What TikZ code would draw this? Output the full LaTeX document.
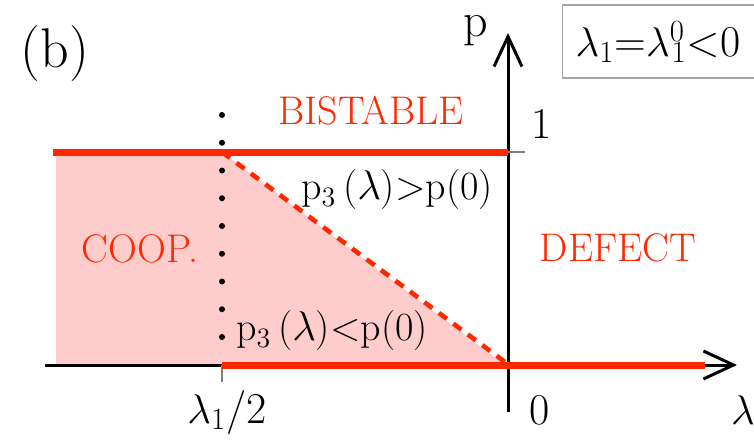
\documentclass[tikz,border=0pt]{standalone}
\usepackage{fontspec}
\usetikzlibrary{arrows.meta}
\definecolor{phasered}{RGB}{255,40,0}
\definecolor{coopfill}{RGB}{255,204,204}
\newcommand{\lam}{$\lambda$}

\begin{document}
\begin{tikzpicture}[x=0.5pt,y=-0.5pt,
  region/.style={text=phasered,font=\fontsize{20}{24}\selectfont,inner sep=0pt},
  cond/.style={font=\fontsize{20}{24}\selectfont,inner sep=0pt},
  ticklabel/.style={font=\fontsize{22}{26}\selectfont,inner sep=0pt},
  axis/.style={line width=1.5pt,-{Straight Barb[length=15pt,width=14pt,line width=1.5pt]}},
  border/.style={phasered,line width=3.5pt},
  tickline/.style={gray,line width=0.6pt}
]
\useasboundingbox (0,0) rectangle (754,439);
% key points
\coordinate (o) at (508,365);
\coordinate (half) at (222,365);
\coordinate (halftop) at (222,152);
\coordinate (topleft) at (53,152);
\coordinate (topaxis) at (508,152);
% cooperative region
\fill[coopfill] (56,152) -- (halftop) -- (505,365) -- (56,365) -- cycle;
% axes
\draw[axis] (45,365) -- (737,365);
\draw[axis] (508,412) -- (508,33);
\draw[tickline] (topaxis) -- (525,152);
\draw[tickline] (half) -- (222,382);
% phase borders
\draw[border] (topleft) -- (topaxis);
\draw[border] (half) -- (705,365);
\draw[phasered,line width=2.3pt,dash pattern=on 5pt off 4pt] (halftop) -- (505,362);
\foreach \i in {0,...,8}
  \fill (222,115+27.75*\i) circle (1.5pt);
% labels
\node[font=\fontsize{28}{32}\selectfont,inner sep=0pt] (panel) at (55,54) {(b)};
\node[font=\fontsize{24}{28}\selectfont,inner sep=0pt,anchor=base] (plab) at (476,36) {p};
\node[draw=gray!70,line width=0.6pt,anchor=west,minimum height=36.5pt,inner xsep=6.5pt,
      text width=97pt,align=left,font=\fontsize{22}{26}\selectfont] (cond0) at (562,41.5)
  {\lam\textsubscript{1}=\lam\textsuperscript{0}\kern-0.3em\textsubscript{1}<0};
\node[region] (bist) at (371,111) {BISTABLE};
\node[region] (coop) at (140,249) {COOP.};
\node[region] (defect) at (618,248) {DEFECT};
\node[cond] (above) at (397,190) {p\textsubscript{3}\,(\lam)>p(0)};
\node[cond] (below) at (332,331) {p\textsubscript{3}\,(\lam)<p(0)};
\node[ticklabel] (one) at (542,124) {1};
\node[ticklabel] (zero) at (540,410) {0};
\node[ticklabel] (lhalf) at (227,412) {\lam\textsubscript{1}/2};
\node[ticklabel] (lax) at (743,410) {\lam};
\end{tikzpicture}
\end{document}
